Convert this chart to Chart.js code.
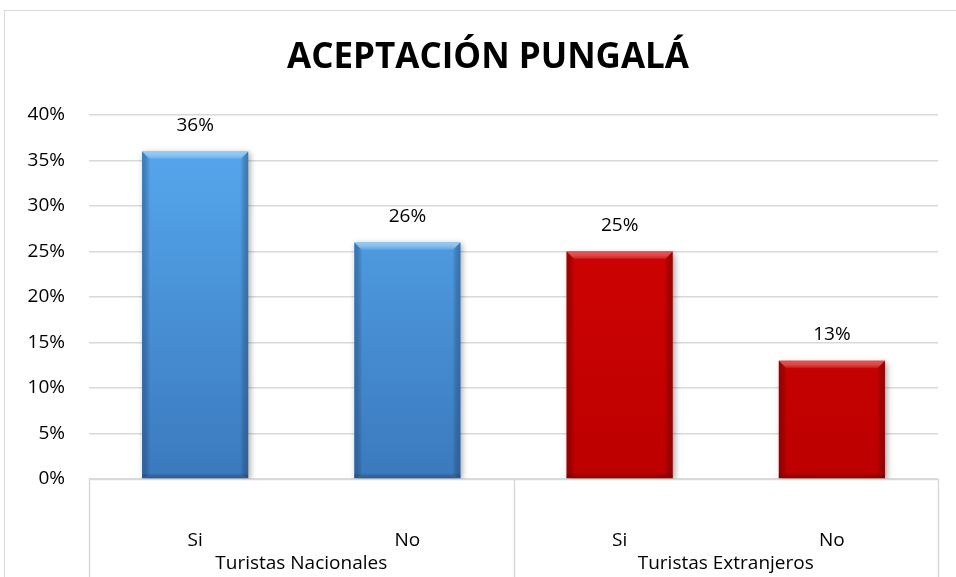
<!doctype html>
<html>
<head>
<meta charset="utf-8">
<title>Aceptación Pungalá</title>
<script src="https://cdn.jsdelivr.net/npm/chart.js@4/dist/chart.umd.min.js"></script>
<style>
	html, body { margin: 0; padding: 0; background: #fff; }
	#holder { width: 956px; height: 577px; }
</style>
</head>
<body>
<div id="holder"><canvas id="chart-area" width="956" height="577"></canvas></div>
<script>
// data
var answers = ['Si', 'No', 'Si', 'No'];
var groups = ['Turistas Nacionales', 'Turistas Extranjeros'];
var groupOf = [0, 0, 1, 1];
var percents = [36, 26, 25, 13];
var title = 'ACEPTACIÓN PUNGALÁ';

var FONT = '"Open Sans", sans-serif';
var GRID = '#d9d9d9';

// colour per group: [top, bottom, bevel light, edge dark]
var shades = [
	['#58abf2', '#3b79bd', 'rgba(150,210,250,0.85)', 'rgba(30,70,120,0.45)'],
	['#d60404', '#bd0000', 'rgba(240,90,90,0.8)', 'rgba(100,0,0,0.45)']
];

function barFill(c) {
	var chart = c.chart;
	var area = chart.chartArea;
	var s = shades[groupOf[c.dataIndex]];
	if (!area) return s[0];
	var g = chart.ctx.createLinearGradient(0, area.top, 0, area.bottom);
	g.addColorStop(0, s[0]);
	g.addColorStop(1, s[1]);
	return g;
}

// outer frame, title, grouped axis box
var framePlugin = {
	id: 'frame',
	beforeDraw: function (chart) {
		var ctx = chart.ctx;
		ctx.save();
		ctx.strokeStyle = GRID;
		ctx.lineWidth = 1;
		ctx.strokeRect(4.5, 10.5, 1200, 1200);
		ctx.fillStyle = '#000';
		ctx.font = 'bold 35px ' + FONT;
		ctx.textAlign = 'center';
		ctx.textBaseline = 'middle';
		ctx.fillText(title, 488, 58);
		ctx.restore();
	},
	afterDraw: function (chart) {
		var ctx = chart.ctx;
		var x = chart.scales.x;
		var area = chart.chartArea;
		var step = x.getPixelForValue(1) - x.getPixelForValue(0);
		ctx.save();
		ctx.strokeStyle = GRID;
		ctx.lineWidth = 1.5;
		ctx.beginPath();
		ctx.moveTo(area.left, area.bottom + 0.5);
		ctx.lineTo(area.right, area.bottom + 0.5);
		var bounds = [area.left];
		for (var i = 1; i < answers.length; i++) {
			if (groupOf[i] !== groupOf[i - 1]) bounds.push(x.getPixelForValue(i) - step / 2);
		}
		bounds.push(area.right);
		bounds.forEach(function (b) {
			ctx.moveTo(Math.round(b) + 0.5, area.bottom);
			ctx.lineTo(Math.round(b) + 0.5, 577);
		});
		ctx.stroke();
		ctx.fillStyle = '#000';
		ctx.font = '19px ' + FONT;
		ctx.textAlign = 'center';
		ctx.textBaseline = 'middle';
		groups.forEach(function (name, gi) {
			var idx = [];
			groupOf.forEach(function (g, k) { if (g === gi) idx.push(k); });
			var cx = (x.getPixelForValue(idx[0]) + x.getPixelForValue(idx[idx.length - 1])) / 2;
			ctx.fillText(name, cx, 564);
		});
		ctx.restore();
	}
};

// bevelled bars with a soft shadow, plus value labels
var bevelPlugin = {
	id: 'bevel',
	beforeDatasetsDraw: function (chart) {
		var ctx = chart.ctx;
		ctx.save();
		ctx.shadowColor = 'rgba(0,0,0,0.35)';
		ctx.shadowBlur = 6;
		ctx.shadowOffsetX = 2;
		ctx.shadowOffsetY = 2;
	},
	afterDatasetsDraw: function (chart) {
		var ctx = chart.ctx;
		ctx.restore();
		var meta = chart.getDatasetMeta(0);
		ctx.save();
		meta.data.forEach(function (bar, i) {
			var s = shades[groupOf[i]];
			var half = bar.width / 2;
			var l = bar.x - half, r = bar.x + half, t = bar.y, b = bar.base;
			var e = 8;
			var gt = ctx.createLinearGradient(0, t, 0, t + e);
			gt.addColorStop(0, s[2]); gt.addColorStop(1, 'rgba(255,255,255,0)');
			ctx.fillStyle = gt;
			ctx.beginPath();
			ctx.moveTo(l, t); ctx.lineTo(r, t); ctx.lineTo(r - e, t + e); ctx.lineTo(l + e, t + e);
			ctx.closePath();
			ctx.fill();
			var gl = ctx.createLinearGradient(l, 0, l + e, 0);
			gl.addColorStop(0, s[3]); gl.addColorStop(1, 'rgba(0,0,0,0)');
			ctx.fillStyle = gl;
			ctx.beginPath();
			ctx.moveTo(l, t); ctx.lineTo(l + e, t + e); ctx.lineTo(l + e, b - 4); ctx.lineTo(l, b);
			ctx.closePath(); ctx.fill();
			var gr = ctx.createLinearGradient(r, 0, r - e, 0);
			gr.addColorStop(0, s[3]); gr.addColorStop(1, 'rgba(0,0,0,0)');
			ctx.fillStyle = gr;
			ctx.beginPath();
			ctx.moveTo(r, t); ctx.lineTo(r - e, t + e); ctx.lineTo(r - e, b - 4); ctx.lineTo(r, b);
			ctx.closePath(); ctx.fill();
			var gb = ctx.createLinearGradient(0, b, 0, b - 5);
			gb.addColorStop(0, s[3]); gb.addColorStop(1, 'rgba(0,0,0,0)');
			ctx.fillStyle = gb;
			ctx.fillRect(l, b - 5, r - l, 5);

			ctx.fillStyle = '#000';
			ctx.font = '19px ' + FONT;
			ctx.textAlign = 'center';
			ctx.textBaseline = 'middle';
			ctx.fillText(percents[i] + '%', bar.x, t - 26);
		});
		ctx.restore();
	}
};

var ctx = document.getElementById('chart-area').getContext('2d');
var chart = new Chart(ctx, {
	type: 'bar',
	data: {
		labels: answers,
		datasets: [{
			data: percents,
			backgroundColor: barFill,
			borderWidth: 0,
			categoryPercentage: 1,
			barPercentage: 0.5
		}]
	},
	options: {
		responsive: false,
		animation: false,
		devicePixelRatio: 1,
		layout: { padding: { left: 0, right: 18, top: 115, bottom: 0 } },
		plugins: {
			legend: { display: false },
			tooltip: { enabled: false }
		},
		scales: {
			x: {
				grid: { display: false, drawTicks: false },
				border: { display: false },
				ticks: { color: '#000', font: { family: FONT, size: 19 }, padding: 50, maxRotation: 0 },
				afterFit: function (s) { s.height = 98; }
			},
			y: {
				min: 0,
				max: 40,
				ticks: {
					stepSize: 5,
					color: '#000',
					font: { family: FONT, size: 19 },
					padding: 24,
					callback: function (v) { return v + '%'; }
				},
				grid: { color: GRID, lineWidth: 1.5, drawTicks: false },
				border: { display: false },
				afterFit: function (s) { s.width = 89; }
			}
		}
	},
	plugins: [framePlugin, bevelPlugin]
});
</script>
</body>
</html>
